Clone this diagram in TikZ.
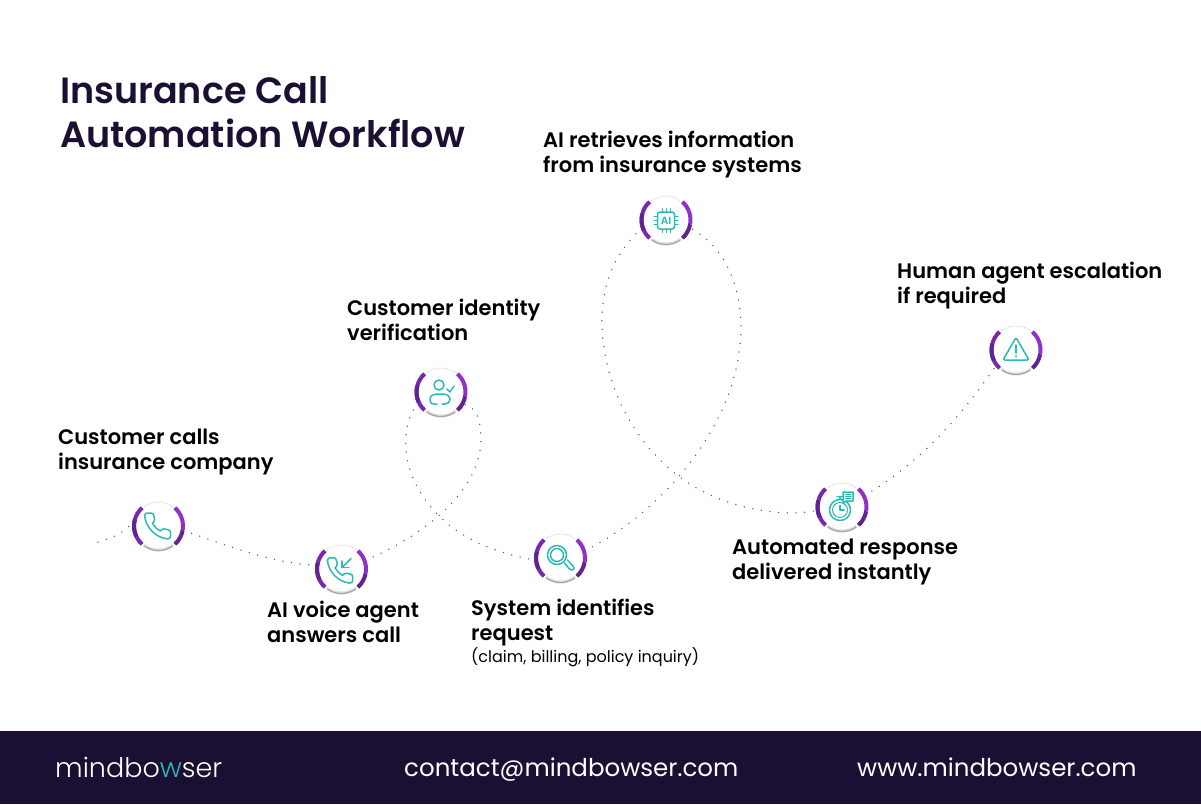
\documentclass[tikz,border=0pt]{standalone}
\usepackage{fontspec}
\setmainfont{Poppins}[BoldFont={Poppins SemiBold}]
\newfontfamily\lightfont{Poppins Light}
\definecolor{inkdark}{HTML}{1B1033}
\definecolor{ringpurple}{HTML}{7A27B0}
\definecolor{ringdark}{HTML}{5E2590}
\definecolor{ringlight}{HTML}{9030C8}
\definecolor{iconteal}{HTML}{2DB9B5}
\definecolor{dotgrey}{HTML}{555566}
\tikzset{
  stepnode/.style={circle,fill=white,minimum size=50pt,inner sep=0pt},
  dotline/.style={draw=dotgrey,line width=1.5pt,line cap=round,dash pattern=on 0pt off 8.7pt},
  ringarc/.style={line width=4pt,line cap=butt},
  iconline/.style={draw=iconteal,line width=1.5pt,line cap=round,line join=round},
  steplabel/.style={anchor=north west,align=left,inner sep=0pt,text=black,font=\fontsize{21}{25}\selectfont\bfseries},
  titlelabel/.style={anchor=north west,align=left,inner sep=0pt,text=inkdark,font=\fontsize{36.5}{44}\selectfont\bfseries},
  footerlabel/.style={anchor=base west,inner sep=0pt,text=white,font=\fontsize{24.5}{28}\selectfont},
}
% ring around a step node
\newcommand{\stepring}[1]{%
  \begin{scope}[shift={(#1.center)}]
    \draw[gray!35,line width=0.8pt,dash pattern=on 1.5pt off 1.2pt] (232:24) arc[start angle=232,end angle=308,radius=24];
    \draw[gray!25,line width=3pt] (52:24) arc[start angle=52,end angle=128,radius=24];
    \draw[gray!70,line width=1.2pt] (55:24.5) arc[start angle=55,end angle=125,radius=24.5];
    \draw[ringarc,draw=ringpurple] (132:24.5) arc[start angle=132,end angle=228,radius=24.5];
    \draw[ringarc,draw=ringdark] (155:24.5) arc[start angle=155,end angle=195,radius=24.5];
    \draw[ringarc,draw=ringlight] (-48:24.5) arc[start angle=-48,end angle=10,radius=24.5];
    \draw[ringarc,draw=ringdark] (10:24.5) arc[start angle=10,end angle=48,radius=24.5];
  \end{scope}}
\newcommand{\phonepath}{(22,16.9) -- (22,19.9) .. controls (22,21.1) and (21,22.1) .. (19.8,21.9) .. controls (16.7,21.6) and (13.8,20.5) .. (11.2,18.85) .. controls (8.8,17.3) and (6.7,15.3) .. (5.2,12.85) .. controls (3.5,10.2) and (2.5,7.2) .. (2.1,4.2) .. controls (2,3) and (3,2) .. (4.1,2) -- (7.1,2) .. controls (8.1,2) and (9,2.7) .. (9.1,3.7) .. controls (9.2,4.7) and (9.5,5.6) .. (9.8,6.5) .. controls (10.1,7.2) and (9.9,8.1) .. (9.35,8.6) -- (8.1,9.9) .. controls (9.5,12.4) and (11.6,14.5) .. (14.1,15.9) -- (15.35,14.65) .. controls (15.9,14.1) and (16.7,13.9) .. (17.45,14.2) .. controls (18.4,14.5) and (19.3,14.75) .. (20.3,14.9) .. controls (21.3,15) and (22,15.9) .. (22,16.9) -- cycle}
\begin{document}
\begin{tikzpicture}[x=1pt,y=-1pt]
\useasboundingbox (0,0) rectangle (1201,804);
\fill[white] (0,0) rectangle (1201,804);
\fill[inkdark] (0,731) rectangle (1201,804);

% step nodes
\node[stepnode] (n1) at (158.5,526) {};
\node[stepnode] (n2) at (341.5,569) {};
\node[stepnode] (n3) at (441,392) {};
\node[stepnode] (n4) at (560.5,558) {};
\node[stepnode] (n5) at (666,220) {};
\node[stepnode] (n6) at (842,507) {};
\node[stepnode] (n7) at (1016,350) {};
\coordinate (start) at (98,542);

% connectors
\path[dotline] (start) .. controls (112,538) and (122,535) .. (n1.168);
\path[dotline] (n1.-10) .. controls (220,543) and (270,563) .. (n2.172);
\path[dotline] (n2.20) .. controls (425,535) and (482,490) .. (481,437) .. controls (480,420) and (478,408) .. (n3.-28);
\path[dotline] (n3.205) .. controls (400,425) and (402,465) .. (422,495) .. controls (448,535) and (490,552) .. (n4.185);
\path[dotline] (n4.17) .. controls (650,520) and (742,430) .. (741,325) .. controls (740,280) and (722,245) .. (n5.-18);
\path[dotline] (n5.198) .. controls (618,250) and (601,280) .. (602,325) .. controls (604,400) and (650,470) .. (715,497) .. controls (750,512) and (790,516) .. (n6.188);
\path[dotline] (n6.27) .. controls (925,460) and (965,410) .. (n7.218);

% rings
\stepring{n1}\stepring{n2}\stepring{n3}\stepring{n4}\stepring{n5}\stepring{n6}\stepring{n7}

% icon 1: phone
\begin{scope}[shift={(n1.center)},shift={(-1,0)},scale=1.3,shift={(-12,-12)}]
  \draw[iconline] \phonepath;
\end{scope}
% icon 2: incoming phone
\begin{scope}[shift={(n2.center)},shift={(-1.5,1.5)},scale=1.27,shift={(-12,-12)}]
  \draw[iconline] \phonepath;
\end{scope}
\begin{scope}[shift={(n2.center)}]
  \draw[iconline] (9.5,-10.5) -- (0.5,-1.5);
  \draw[iconline] (0.5,-8) -- (0.5,-1.5) -- (7.5,-1.5);
\end{scope}
% icon 3: person with check
\begin{scope}[shift={(n3.center)}]
  \draw[iconline] (-2,-7) circle[radius=5];
  \draw[iconline] (-4,12) -- (-7,12) .. controls (-10.5,12) and (-11,9.5) .. (-11,7.5) .. controls (-11,4) and (-8,2) .. (-5,2) -- (2,2) .. controls (7,2) and (9,5) .. (9,7.5) .. controls (9,10) and (7,12) .. (4,12) -- (1,12);
  \draw[iconline] (6,-3) -- (9,0) -- (13,-6);
\end{scope}
% icon 4: magnifier
\begin{scope}[shift={(n4.center)}]
  \draw[iconline] (-3.5,-3) circle[radius=9.5];
  \draw[iconline] (-3.5,-3) circle[radius=6.5];
  \draw[iconline] (4,5) -- (9,11) .. controls (10.5,13) and (13.5,12) .. (13.5,10.5) .. controls (13.5,9) and (13,8.5) .. (12.5,8) -- (7,2);
\end{scope}
% icon 5: chip with AI
\begin{scope}[shift={(n5.center)},line width=1.2pt]
  \draw[iconline,rounded corners=2.5pt] (-8.5,-8) rectangle (8.5,9);
  \foreach \p in {-4,0,4}{
    \draw[iconline,line width=1pt] (\p,-8) -- (\p,-11.5);
    \draw[iconline,line width=1pt] (\p,9) -- (\p,12.5);
    \draw[iconline,line width=1pt] (-8.5,\p+0.5) -- (-12,\p+0.5);
    \draw[iconline,line width=1pt] (8.5,\p+0.5) -- (12,\p+0.5);
  }
  \node[inner sep=0pt,text=iconteal,font=\fontsize{10.5}{11}\selectfont\bfseries] (chiptext) at (0,0.5) {AI};
\end{scope}
% icon 6: stopwatch and chat
\begin{scope}[shift={(n6.center)}]
  \draw[iconline] (-2,3) circle[radius=10.5];
  \draw[iconline,line width=1pt] (-2,3) circle[radius=7.5];
  \draw[iconline] (-2,-1.5) -- (-2,3) -- (2,3);
  \draw[iconline] (-5,-10.5) -- (1,-10.5);
  \draw[iconline] (-2,-10.5) -- (-2,-7.5);
  \draw[iconline,fill=white] (1,-15) -- (11,-15) -- (11,-6) -- (4,-6) -- (1,-3.5) -- cycle;
  \draw[iconline,line width=1pt] (3.5,-12.5) -- (9,-12.5) (3.5,-10.3) -- (9,-10.3) (3.5,-8.2) -- (9,-8.2);
\end{scope}
% icon 7: warning triangle
\begin{scope}[shift={(n7.center)}]
  \draw[iconline,rounded corners=2pt] (0,-12.5) -- (13,10) -- (-13,10) -- cycle;
  \draw[iconline] (0,-5) -- (0,3);
  \fill[iconteal] (0,6.3) circle[radius=1.1];
\end{scope}

% title
\node[titlelabel] (title) at (60,76) {Insurance Call\\Automation Workflow};

% labels
\node[steplabel] (l1) at (58,429) {Customer calls\\insurance company};
\node[steplabel] (l2) at (267,601) {AI voice agent\\answers call};
\node[steplabel] (l3) at (347,299) {Customer identity\\verification};
\node[steplabel] (l4) at (471,599) {System identifies\\request\\[-3pt]{\mdseries\fontsize{16}{20}\selectfont (claim, billing, policy inquiry)}};
\node[steplabel] (l5) at (543,131) {AI retrieves information\\from insurance systems};
\node[steplabel] (l6) at (732,539) {Automated response\\delivered instantly};
\node[steplabel] (l7) at (897,262) {Human agent escalation\\if required};

% footer
\node[footerlabel,font=\fontsize{27}{30}\selectfont\lightfont] (logo) at (55,777) {mindbo\textcolor{iconteal}{w}ser};
\node[footerlabel] (mail) at (404,776) {contact@mindbowser.com};
\node[footerlabel] (web) at (857,776) {www.mindbowser.com};
\end{tikzpicture}
\end{document}
